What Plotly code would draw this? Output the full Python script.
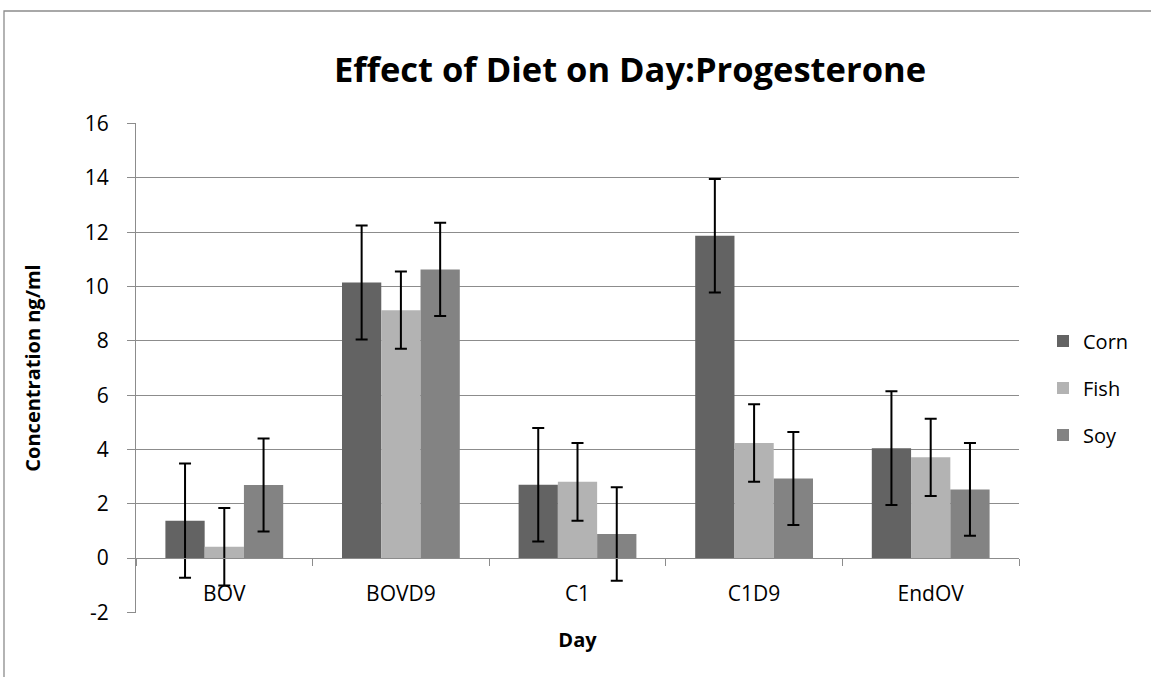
import plotly.graph_objects as go

days = ["BOV", "BOVD9", "C1", "C1D9", "EndOV"]
corn = [1.38, 10.15, 2.70, 11.87, 4.05]
fish = [0.42, 9.13, 2.81, 4.24, 3.71]
soy = [2.69, 10.63, 0.89, 2.93, 2.53]
corn_err = [2.10, 2.10, 2.09, 2.09, 2.09]
fish_err = [1.43, 1.42, 1.43, 1.43, 1.42]
soy_err = [1.71, 1.72, 1.72, 1.71, 1.71]
y_ticks = [-2, 0, 2, 4, 6, 8, 10, 12, 14, 16]
y_ticktext = ["-2", "0", "2", "4", "6", "8", "10", "12", "14", "16"]

series = [("Corn", corn, corn_err, "#636363"),
          ("Fish", fish, fish_err, "#b3b3b3"),
          ("Soy", soy, soy_err, "#838383")]

fig = go.Figure()
for name, vals, errs, col in series:
    fig.add_trace(go.Bar(
        x=days, y=vals, name=name, legendgroup=name,
        marker=dict(color=col, line=dict(width=0)),
        error_y=dict(type="data", array=errs, visible=True,
                     color="black", thickness=2, width=6),
    ))

W, H = 1151, 677
L, R, T, B = 136, 1019, 123, 613
pw, ph = R - L, B - T
ymin, ymax = -2.02, 16.02
zero_pos = (0 - ymin) / (ymax - ymin)
GRID = "#8c8c8c"

fig.update_layout(
    width=W, height=H,
    margin=dict(l=L, r=W - R, t=T, b=H - B),
    paper_bgcolor="white", plot_bgcolor="white",
    barmode="group", bargap=0.333, bargroupgap=0,
    font=dict(family="Open Sans", size=21, color="black"),
    title=dict(text="<b>Effect of Diet on Day:Progesterone</b>",
               font=dict(family="Open Sans", size=34.5, color="black"),
               x=630 / W, xref="container", xanchor="center",
               y=1 - 70 / H, yref="container", yanchor="middle"),
    legend=dict(x=(1043 - L) / pw, xanchor="left",
                y=(B - 388) / ph, yanchor="middle",
                font=dict(family="Open Sans", size=20),
                tracegroupgap=18, bgcolor="rgba(0,0,0,0)"),
    showlegend=True,
    yaxis=dict(range=[ymin, ymax], tickvals=y_ticks, ticktext=y_ticktext,
               showgrid=True, gridcolor=GRID, gridwidth=1.3,
               showline=True, linecolor=GRID, linewidth=1.3,
               ticks="outside", ticklen=8, tickcolor=GRID,
               ticklabelstandoff=14, zeroline=False,
               tickfont=dict(size=21), automargin=False,
               title=dict(text="<b>Concentration ng/ml</b>",
                          font=dict(size=20), standoff=38)),
    xaxis=dict(anchor="free", position=zero_pos,
               showline=True, linecolor=GRID, linewidth=1.3,
               ticks="outside", ticklen=7, tickcolor=GRID,
               tickson="boundaries", ticklabelstandoff=17,
               tickfont=dict(size=21), showgrid=False, automargin=False,
               title=dict(text="<b>Day</b>", font=dict(size=20), standoff=26)),
)

# outer chart border
fig.add_shape(type="rect", xref="paper", yref="paper",
              x0=(4 - L) / pw, x1=(1170 - L) / pw,
              y0=(B - 700) / ph, y1=(B - 11) / ph,
              line=dict(color=GRID, width=1.3), fillcolor="rgba(0,0,0,0)",
              layer="below")

fig.write_html("out.html", config={"displayModeBar": False},
               post_script="document.body.style.margin='0';")
